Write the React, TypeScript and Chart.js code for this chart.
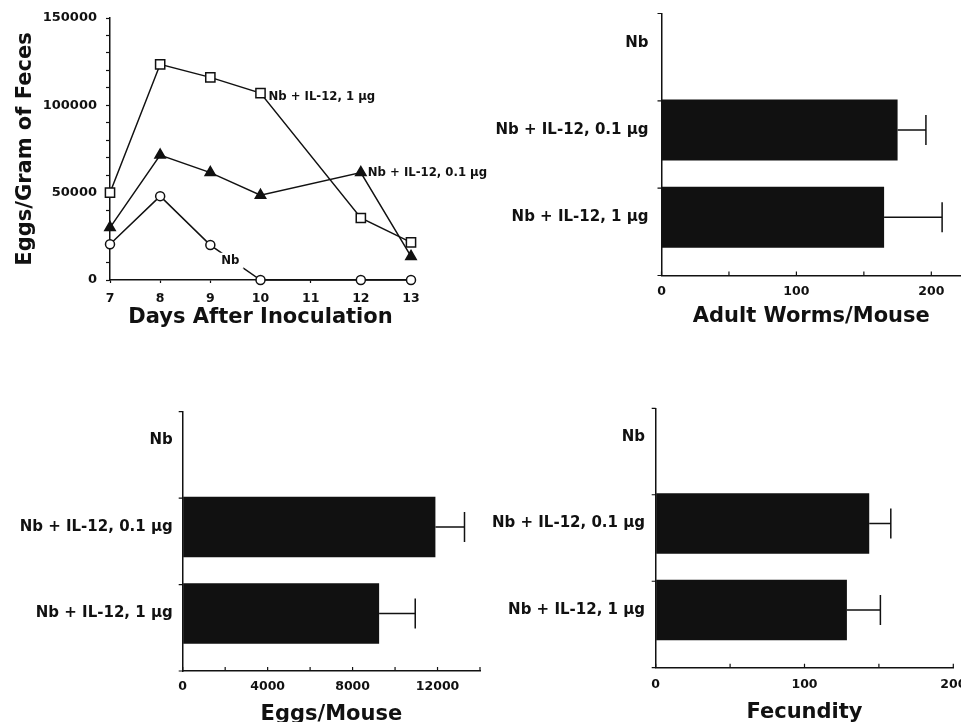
import React, { useEffect, useRef } from 'react';
import { Chart, registerables } from 'chart.js';

Chart.register(...registerables);

const FONT = "'DejaVu Sans', 'Liberation Sans', sans-serif";
const INK = '#111111';

// ---------- Panel A: eggs per gram of feces over time ----------
const days = [7, 8, 9, 10, 12, 13];
const dayTicks = [7, 8, 9, 10, 11, 12, 13];
const eggsGramIL12High = [50000, 123500, 116000, 107000, 35500, 21500];
const eggsGramIL12Low = [30000, 71500, 61500, 48500, 61500, 13500];
const eggsGramNb = [20500, 48000, 20000, 0, 0, 0];
const seriesNames = ['Nb + IL-12, 1 µg', 'Nb + IL-12, 0.1 µg', 'Nb'];

// ---------- Bar panels ----------
const groups = ['Nb', 'Nb + IL-12, 0.1 µg', 'Nb + IL-12, 1 µg'];
const worms = [0, 175, 165];
const wormsErr = [0, 21, 43];
const eggsMouse = [0, 11900, 9250];
const eggsMouseErr = [0, 1370, 1700];
const fecundity = [0, 143.5, 128.5];
const fecundityErr = [0, 14.5, 22.5];

const wormTicks = [0, 50, 100, 150, 200];
const wormLabels = [0, 100, 200];
const eggTicks = [0, 2000, 4000, 6000, 8000, 10000, 12000, 14000];
const eggLabels = [0, 4000, 8000, 12000];
const fecTicks = [0, 50, 100, 150, 200];
const fecLabels = [0, 100, 200];
const groupEdges = [-1 / 3, 2 / 3, 5 / 3, 8 / 3];

const bold = (size: number) => ({ family: FONT, size, weight: 'bold' as const });

function makeLabelPlugin(labels: { text: string; x: number; y: number; dx: number; dy: number; align: CanvasTextAlign; bg: boolean }[]) {
  return {
    id: 'seriesLabels',
    afterDatasetsDraw(chart: any) {
      const { ctx, scales } = chart;
      ctx.save();
      ctx.font = `bold 11.7px ${FONT}`;
      ctx.textBaseline = 'middle';
      labels.forEach((l) => {
        const px = scales.x.getPixelForValue(l.x) + l.dx;
        const py = scales.y.getPixelForValue(l.y) + l.dy;
        const w = ctx.measureText(l.text).width;
        const left = l.align === 'center' ? px - w / 2 : px;
        if (l.bg) {
          ctx.fillStyle = '#ffffff';
          ctx.fillRect(left - 4, py - 8, w + 8, 16);
        }
        ctx.fillStyle = INK;
        ctx.textAlign = 'left';
        ctx.fillText(l.text, left, py);
      });
      ctx.restore();
    },
  };
}

function makeErrorPlugin(values: number[], errors: number[]) {
  return {
    id: 'errorBars',
    afterDatasetsDraw(chart: any) {
      const { ctx, scales } = chart;
      ctx.save();
      ctx.strokeStyle = INK;
      ctx.lineWidth = 1.5;
      values.forEach((v, i) => {
        const e = errors[i];
        if (!e) return;
        const x0 = scales.x.getPixelForValue(v);
        const x1 = scales.x.getPixelForValue(v + e);
        const y = scales.y.getPixelForValue(i);
        ctx.beginPath();
        ctx.moveTo(x0, y);
        ctx.lineTo(x1, y);
        ctx.moveTo(x1, y - 15);
        ctx.lineTo(x1, y + 15);
        ctx.stroke();
      });
      ctx.restore();
    },
  };
}

function makeMarksPlugin(xValues: number[], yValues: number[], len: number) {
  return {
    id: 'axisMarks',
    afterDraw(chart: any) {
      const { ctx, scales, chartArea } = chart;
      ctx.save();
      ctx.strokeStyle = INK;
      ctx.lineWidth = 1.2;
      ctx.beginPath();
      xValues.forEach((v) => {
        const px = scales.x.getPixelForValue(v);
        ctx.moveTo(px, chartArea.bottom);
        ctx.lineTo(px, chartArea.bottom - len);
      });
      yValues.forEach((v) => {
        const py = scales.y.getPixelForValue(v);
        ctx.moveTo(chartArea.left, py);
        ctx.lineTo(chartArea.left - len, py);
      });
      ctx.stroke();
      ctx.restore();
    },
  };
}

function lineConfig(): any {
  const mk = (vals: number[]) => days.map((d, i) => ({ x: d, y: vals[i] }));
  const base = {
    borderColor: INK,
    borderWidth: 1.5,
    pointBorderColor: INK,
    pointBorderWidth: 1.5,
    clip: false,
    tension: 0,
  };
  return {
    type: 'line',
    data: {
      datasets: [
        { ...base, label: seriesNames[0], data: mk(eggsGramIL12High), pointStyle: 'rect', pointRadius: 6.5, pointBackgroundColor: '#ffffff' },
        { ...base, label: seriesNames[1], data: mk(eggsGramIL12Low), pointStyle: 'triangle', pointRadius: 6, pointBackgroundColor: INK },
        { ...base, label: seriesNames[2], data: mk(eggsGramNb), pointStyle: 'circle', pointRadius: 4.5, pointBackgroundColor: '#ffffff' },
      ],
    },
    options: {
      responsive: false,
      animation: false,
      events: [],
      layout: { padding: { left: 0, top: 18, right: 89, bottom: 0 } },
      plugins: { legend: { display: false }, tooltip: { enabled: false } },
      scales: {
        x: {
          type: 'linear',
          min: 7,
          max: 13,
          afterBuildTicks: (a: any) => {
            a.ticks = dayTicks.map((v) => ({ value: v }));
          },
          afterFit: (s: any) => {
            s.height = 65;
          },
          grid: { drawOnChartArea: false, tickLength: 3, tickColor: INK, tickWidth: 1.2 },
          border: { color: INK, width: 1.5 },
          ticks: { color: INK, padding: 8, font: bold(12.5), maxRotation: 0, autoSkip: false },
          title: {
            display: true,
            text: 'Days After Inoculation',
            color: INK,
            font: bold(21),
            padding: { top: 0, bottom: 14.7 },
          },
        },
        y: {
          type: 'linear',
          min: 0,
          max: 150000,
          afterFit: (s: any) => {
            s.width = 110;
            s.paddingTop = 0;
            s.paddingBottom = 0;
          },
          grid: { drawOnChartArea: false, tickLength: 4, tickColor: INK, tickWidth: 1.2 },
          border: { color: INK, width: 1.5 },
          ticks: {
            stepSize: 10000,
            autoSkip: false,
            color: INK,
            padding: 9,
            font: bold(13),
            callback: (v: number) => (v % 50000 === 0 ? String(v) : ''),
          },
          title: {
            display: true,
            text: 'Eggs/Gram of Feces',
            color: INK,
            font: bold(21),
            padding: { top: 13, bottom: 0 },
          },
        },
      },
    },
    plugins: [
      makeLabelPlugin([
        { text: seriesNames[0], x: days[3], y: eggsGramIL12High[3], dx: 8, dy: 4, align: 'left', bg: false },
        { text: seriesNames[1], x: days[4], y: eggsGramIL12Low[4], dx: 7, dy: 0, align: 'left', bg: false },
        { text: seriesNames[2], x: 9.4, y: 11000, dx: 0, dy: 0, align: 'center', bg: true },
      ]),
    ],
  };
}

type BarSpec = {
  values: number[];
  errors: number[];
  xMax: number;
  xTicks: number[];
  xLabels: number[];
  title: string;
  padTop: number;
  padRight: number;
  yWidth: number;
  xHeight: number;
  xTickPad: number;
  yTickPad: number;
  titlePad: number;
};

function barConfig(p: BarSpec): any {
  return {
    type: 'bar',
    data: {
      datasets: [
        {
          label: p.title,
          data: groups.map((_, i) => ({ x: p.values[i], y: i })),
          backgroundColor: INK,
          borderWidth: 0,
          categoryPercentage: 1,
          barPercentage: 0.7,
        },
      ],
    },
    options: {
      indexAxis: 'y',
      responsive: false,
      animation: false,
      events: [],
      layout: { padding: { left: 0, top: p.padTop, right: p.padRight, bottom: 0 } },
      plugins: { legend: { display: false }, tooltip: { enabled: false } },
      scales: {
        x: {
          type: 'linear',
          min: 0,
          max: p.xMax,
          offset: false,
          afterBuildTicks: (a: any) => {
            a.ticks = p.xTicks.map((v) => ({ value: v }));
          },
          afterFit: (s: any) => {
            s.height = p.xHeight;
          },
          grid: { drawOnChartArea: false, drawTicks: false, offset: false },
          border: { color: INK, width: 1.5 },
          ticks: {
            autoSkip: false,
            maxRotation: 0,
            color: INK,
            padding: p.xTickPad,
            font: bold(12.5),
            callback: (v: number) => (p.xLabels.includes(v) ? String(v) : ''),
          },
          title: {
            display: true,
            text: p.title,
            color: INK,
            font: bold(21),
            padding: { top: 0, bottom: p.titlePad },
          },
        },
        y: {
          type: 'linear',
          reverse: true,
          offset: false,
          min: -1 / 3,
          max: 8 / 3,
          afterBuildTicks: (a: any) => {
            a.ticks = groups.map((_, i) => ({ value: i }));
          },
          afterFit: (s: any) => {
            s.width = p.yWidth;
            s.paddingTop = 0;
            s.paddingBottom = 0;
          },
          grid: { drawOnChartArea: false, drawTicks: false, offset: false },
          border: { color: INK, width: 1.5 },
          ticks: {
            autoSkip: false,
            color: INK,
            padding: p.yTickPad,
            font: bold(15),
            callback: (v: number) => groups[v] ?? '',
          },
        },
      },
    },
    plugins: [makeErrorPlugin(p.values, p.errors), makeMarksPlugin(p.xTicks, groupEdges, 4)],
  };
}

function ChartPanel(props: { left: number; top: number; width: number; height: number; build: () => any }) {
  const ref = useRef<HTMLCanvasElement>(null);
  useEffect(() => {
    const chart = new Chart(ref.current as HTMLCanvasElement, props.build());
    return () => chart.destroy();
  }, []);
  return (
    <canvas
      ref={ref}
      width={props.width}
      height={props.height}
      style={{ position: 'absolute', left: props.left, top: props.top, width: props.width, height: props.height, display: 'block' }}
    />
  );
}

export default function App() {
  useEffect(() => {
    document.body.style.margin = '0';
  }, []);
  return (
    <div style={{ position: 'relative', width: 961, height: 722, overflow: 'hidden', background: '#ffffff' }}>
      <ChartPanel left={0} top={0} width={500} height={345} build={lineConfig} />
      <ChartPanel
        left={480}
        top={0}
        width={500}
        height={345}
        build={() =>
          barConfig({
            values: worms,
            errors: wormsErr,
            xMax: 222,
            xTicks: wormTicks,
            xLabels: wormLabels,
            title: 'Adult Worms/Mouse',
            padTop: 13.5,
            padRight: 19,
            yWidth: 181.5,
            xHeight: 69.5,
            xTickPad: 9,
            yTickPad: 13,
            titlePad: 15.7,
          })
        }
      />
      <ChartPanel
        left={0}
        top={390}
        width={500}
        height={345}
        build={() =>
          barConfig({
            values: eggsMouse,
            errors: eggsMouseErr,
            xMax: 14000,
            xTicks: eggTicks,
            xLabels: eggLabels,
            title: 'Eggs/Mouse',
            padTop: 21.7,
            padRight: 20,
            yWidth: 182.7,
            xHeight: 64,
            xTickPad: 8,
            yTickPad: 10,
            titlePad: 7.5,
          })
        }
      />
      <ChartPanel
        left={480}
        top={390}
        width={500}
        height={345}
        build={() =>
          barConfig({
            values: fecundity,
            errors: fecundityErr,
            xMax: 200,
            xTicks: fecTicks,
            xLabels: fecLabels,
            title: 'Fecundity',
            padTop: 18.3,
            padRight: 26.7,
            yWidth: 175.7,
            xHeight: 67.3,
            xTickPad: 10,
            yTickPad: 10.7,
            titlePad: 9.5,
          })
        }
      />
    </div>
  );
}
